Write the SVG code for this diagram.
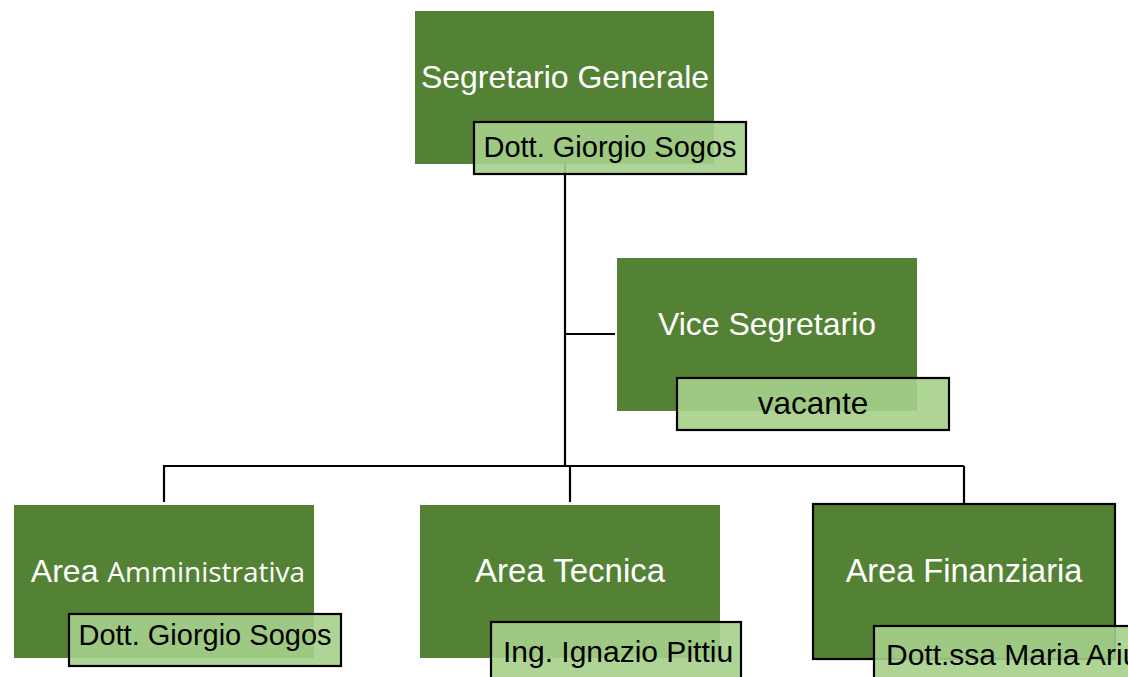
<svg xmlns="http://www.w3.org/2000/svg" width="1128" height="677" viewBox="0 0 1128 677">
<style>
.box{fill:#548235;}
.lbl{fill:#a6d08b;fill-opacity:0.9;stroke:#000;stroke-width:2.2;}
.head{fill:#fff;font-family:"Liberation Sans",Arial,sans-serif;font-size:32px;text-anchor:middle;}
.name{fill:#000;font-family:"Liberation Sans",Arial,sans-serif;font-size:29px;text-anchor:middle;}
.conn{stroke:#000;stroke-width:2.2;fill:none;}
</style>
<rect width="1128" height="677" fill="#fff"/>
<g id="connectors">
<path class="conn" d="M565 160 V466"/>
<path class="conn" d="M565 334 H615"/>
<path class="conn" d="M163 466 H964"/>
<path class="conn" d="M164 466 V502"/>
<path class="conn" d="M570 466 V502"/>
<path class="conn" d="M964 466 V503"/>
</g>
<g id="segretario-generale">
<rect class="box" x="415" y="11" width="299" height="153"/>
<text class="head" x="565" y="88">Segretario Generale</text>
<rect class="lbl" x="474" y="122" width="272" height="52"/>
<text class="name" x="610" y="157">Dott. Giorgio Sogos</text>
</g>
<g id="vice-segretario">
<rect class="box" x="617" y="258" width="300" height="153"/>
<text class="head" x="767" y="335">Vice Segretario</text>
<rect class="lbl" x="677" y="378" width="272" height="52"/>
<text class="name" x="813" y="414" style="font-size:31.5px">vacante</text>
</g>
<g id="area-amministrativa">
<rect class="box" x="14" y="505" width="300" height="153"/>
<text class="head" x="168" y="582"><tspan>Area </tspan><tspan style="font-family:'Open Sans','Noto Sans',sans-serif;font-size:28px">Amministrativa</tspan></text>
<rect class="lbl" x="69" y="614" width="272" height="52"/>
<text class="name" x="205" y="645">Dott. Giorgio Sogos</text>
</g>
<g id="area-tecnica">
<rect class="box" x="420" y="505" width="300" height="153"/>
<text class="head" x="570" y="582" style="font-size:33px">Area Tecnica</text>
<rect class="lbl" x="491" y="622" width="250" height="60"/>
<text class="name" x="618" y="662" style="font-size:30px">Ing. Ignazio Pittiu</text>
</g>
<g id="area-finanziaria">
<rect class="box" x="813" y="504" width="302" height="155" stroke="#000" stroke-width="2.2"/>
<text class="head" x="964" y="582" style="font-size:32.5px">Area Finanziaria</text>
<rect class="lbl" x="874" y="626" width="290" height="60"/>
<text class="name" x="886" y="665" style="text-anchor:start;font-size:30px">Dott.ssa Maria Ariu</text>
</g>
</svg>
